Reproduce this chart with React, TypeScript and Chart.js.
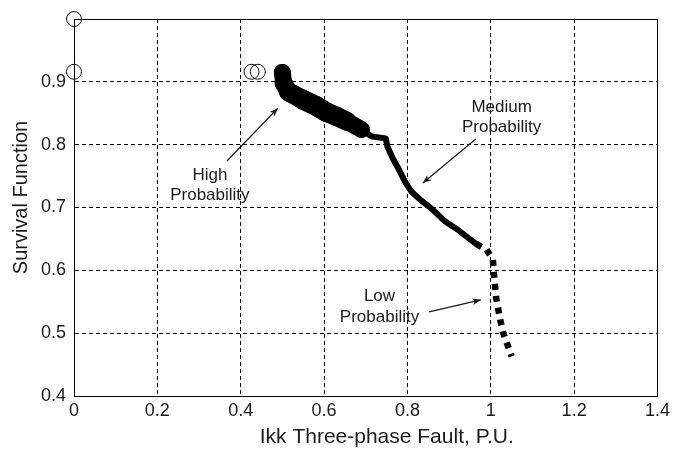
import React, { useEffect, useRef } from 'react';
import { Chart, registerables } from 'chart.js';

Chart.register(...registerables);

// ---- data ----
const circleX = [0, 0, 0.426, 0.441];
const circleY = [1.0, 0.916, 0.916, 0.916];

const highX = [0.5, 0.503, 0.515, 0.548, 0.58, 0.605, 0.63, 0.655, 0.69];
const highY = [0.915, 0.898, 0.884, 0.872, 0.862, 0.852, 0.845, 0.837, 0.824];

const mediumX = [0.69, 0.715, 0.748, 0.752, 0.765, 0.78, 0.795, 0.81, 0.835, 0.86, 0.89, 0.92, 0.945, 0.965];
const mediumY = [0.823, 0.813, 0.81, 0.797, 0.778, 0.76, 0.74, 0.725, 0.71, 0.697, 0.678, 0.665, 0.652, 0.642];

const lowX = [0.965, 0.99, 1.005, 1.007, 1.01, 1.013, 1.023, 1.03, 1.05];
const lowY = [0.642, 0.633, 0.617, 0.598, 0.577, 0.556, 0.52, 0.5, 0.463];

const xTicks = [0, 0.2, 0.4, 0.6, 0.8, 1.0, 1.2, 1.4];
const yTicks = [0.4, 0.5, 0.6, 0.7, 0.8, 0.9, 1.0];

const xTitle = 'Ikk Three-phase Fault, P.U.';
const yTitle = 'Survival Function';

// annotation texts (data coordinates)
const notes = [
  { lines: ['High', 'Probability'], x: 0.326, y: [0.752, 0.72], from: [0.367, 0.774], to: [0.489, 0.858] },
  { lines: ['Medium', 'Probability'], x: 1.026, y: [0.86, 0.828], from: [0.964, 0.809], to: [0.837, 0.739] },
  { lines: ['Low', 'Probability'], x: 0.733, y: [0.559, 0.526], from: [0.852, 0.534], to: [0.976, 0.553] },
];

// styles
const highWidths = [17, 18, 19, 20, 20, 19.5, 19, 17, 14];
const FONT = '"Liberation Sans", Arial, Helvetica, sans-serif';
const INK = '#1a1a1a';

const pts = (xs: number[], ys: number[]) => xs.map((x, i) => ({ x, y: ys[i] }));
const fmt = (v: number) => String(Number(v.toFixed(1)));

const boxPlugin = {
  id: 'box',
  beforeDatasetsDraw(chart: any) {
    const { ctx, chartArea: a } = chart;
    ctx.save();
    ctx.strokeStyle = '#000';
    ctx.lineWidth = 1;
    ctx.strokeRect(Math.round(a.left) + 0.5, Math.round(a.top) + 0.5, Math.round(a.right - a.left), Math.round(a.bottom - a.top));
    ctx.restore();
  },
};

const titlesPlugin = {
  id: 'titles',
  afterDraw(chart: any) {
    const { ctx, chartArea: a } = chart;
    ctx.save();
    ctx.fillStyle = INK;
    ctx.textAlign = 'center';
    ctx.textBaseline = 'middle';
    ctx.font = `21px ${FONT}`;
    ctx.fillText(xTitle, (a.left + a.right) / 2 + 21, a.bottom + 41);
    ctx.translate(21.5, (a.top + a.bottom) / 2 - 10);
    ctx.rotate(-Math.PI / 2);
    ctx.font = `20px ${FONT}`;
    ctx.fillText(yTitle, 0, 0);
    ctx.restore();
  },
};

const notesPlugin = {
  id: 'notes',
  afterDatasetsDraw(chart: any) {
    const { ctx, scales } = chart;
    const xs = scales.x;
    const ys = scales.y;
    ctx.save();
    ctx.font = `17px ${FONT}`;
    ctx.fillStyle = INK;
    ctx.textAlign = 'center';
    ctx.textBaseline = 'middle';
    for (const n of notes) {
      const px = xs.getPixelForValue(n.x);
      n.lines.forEach((t, i) => ctx.fillText(t, px, ys.getPixelForValue(n.y[i])));
      const x1 = xs.getPixelForValue(n.from[0]);
      const y1 = ys.getPixelForValue(n.from[1]);
      const x2 = xs.getPixelForValue(n.to[0]);
      const y2 = ys.getPixelForValue(n.to[1]);
      ctx.strokeStyle = INK;
      ctx.lineWidth = 1.2;
      ctx.beginPath();
      ctx.moveTo(x1, y1);
      ctx.lineTo(x2, y2);
      ctx.stroke();
      const ang = Math.atan2(y2 - y1, x2 - x1);
      const L = 9;
      const w = 0.38;
      ctx.fillStyle = INK;
      ctx.beginPath();
      ctx.moveTo(x2, y2);
      ctx.lineTo(x2 - L * Math.cos(ang - w), y2 - L * Math.sin(ang - w));
      ctx.lineTo(x2 - L * 0.7 * Math.cos(ang), y2 - L * 0.7 * Math.sin(ang));
      ctx.lineTo(x2 - L * Math.cos(ang + w), y2 - L * Math.sin(ang + w));
      ctx.closePath();
      ctx.fill();
    }
    ctx.restore();
  },
};

export default function App() {
  const ref = useRef<HTMLCanvasElement | null>(null);

  useEffect(() => {
    if (!ref.current) return;
    const chart = new Chart(ref.current, {
      type: 'scatter',
      data: {
        datasets: [
          {
            label: 'circles',
            data: pts(circleX, circleY),
            showLine: false,
            pointStyle: 'circle',
            pointRadius: 7.5,
            pointBackgroundColor: 'rgba(0,0,0,0)',
            pointBorderColor: '#111',
            pointBorderWidth: 1,
            clip: false as any,
          },
          {
            label: 'high',
            data: pts(highX, highY),
            showLine: true,
            borderColor: '#000',
            borderWidth: 18,
            borderCapStyle: 'round',
            borderJoinStyle: 'round',
            segment: { borderWidth: (c: any) => highWidths[c.p0DataIndex] } as any,
            pointRadius: highWidths.map((w) => w / 2),
            pointBackgroundColor: '#000',
            pointBorderWidth: 0,
          },
          {
            label: 'medium',
            data: pts(mediumX, mediumY),
            showLine: true,
            borderColor: '#000',
            borderWidth: 6,
            borderCapStyle: 'round',
            borderJoinStyle: 'round',
            pointRadius: 0,
          },
          {
            label: 'low',
            data: pts(lowX, lowY),
            showLine: true,
            borderColor: '#000',
            borderWidth: 6.5,
            borderDash: [6, 6],
            borderCapStyle: 'butt',
            pointRadius: 0,
          },
        ],
      },
      options: {
        animation: false,
        responsive: false,
        events: [],
        layout: { padding: { left: 0, right: 15, top: 19, bottom: 0 } },
        plugins: { legend: { display: false }, tooltip: { enabled: false } },
        scales: {
          x: {
            type: 'linear',
            min: 0,
            max: 1.4,
            afterBuildTicks: (s: any) => {
              s.ticks = xTicks.map((v) => ({ value: v }));
            },
            afterFit: (s: any) => {
              s.height = 60;
            },
            ticks: {
              callback: (v: any) => fmt(Number(v)),
              font: { family: FONT, size: 18 },
              color: INK,
              padding: 4,
              maxRotation: 0,
              autoSkip: false,
            },
            grid: { color: '#000', lineWidth: 1, drawTicks: false },
            border: { display: true, color: '#000', width: 1, dash: [4, 3] },
            title: { display: false },
          },
          y: {
            type: 'linear',
            min: 0.4,
            max: 1.0,
            afterBuildTicks: (s: any) => {
              s.ticks = yTicks.map((v) => ({ value: v }));
            },
            afterFit: (s: any) => {
              s.width = 74;
            },
            ticks: {
              callback: (v: any) => (Number(v) >= 0.999 ? '' : fmt(Number(v))),
              font: { family: FONT, size: 18 },
              color: INK,
              padding: 8,
              autoSkip: false,
            },
            grid: { color: '#000', lineWidth: 1, drawTicks: false },
            border: { display: true, color: '#000', width: 1, dash: [4, 3] },
            title: { display: false },
          },
        },
      },
      plugins: [boxPlugin, notesPlugin, titlesPlugin],
    });
    return () => chart.destroy();
  }, []);

  return (
    <div style={{ position: 'fixed', left: 0, top: 0, width: 674, height: 456, background: '#fff' }}>
      <canvas ref={ref} width={674} height={456} style={{ display: 'block', width: 674, height: 456 }} />
    </div>
  );
}
